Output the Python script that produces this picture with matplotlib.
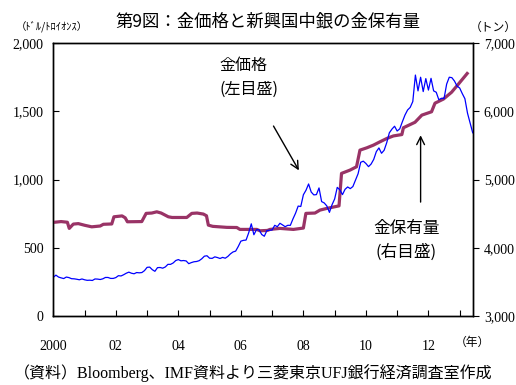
import matplotlib
matplotlib.use("Agg")
import matplotlib.pyplot as plt
import numpy as np

plt.rcParams['font.family'] = ['Noto Sans CJK JP', 'DejaVu Sans']

# Gold price, monthly average (USD / troy ounce), Jan 2000 - Jun 2013
gold_price = [
    284, 300, 286, 280, 275, 286, 282, 274, 273, 270, 266, 272,   # 2000
    266, 262, 263, 261, 272, 271, 268, 273, 283, 283, 276, 276,   # 2001
    282, 296, 294, 303, 314, 322, 314, 310, 319, 317, 319, 333,   # 2002
    357, 359, 340, 328, 355, 356, 351, 360, 379, 379, 389, 407,   # 2003
    414, 405, 407, 404, 384, 392, 398, 400, 406, 420, 439, 442,   # 2004
    424, 423, 434, 429, 422, 430, 424, 437, 456, 470, 476, 510,   # 2005
    549, 555, 557, 610, 676, 596, 633, 632, 598, 585, 627, 629,   # 2006
    631, 665, 655, 680, 668, 655, 665, 665, 712, 754, 806, 803,   # 2007
    889, 922, 968, 909, 888, 890, 939, 839, 829, 807, 760, 816,   # 2008
    858, 943, 925, 890, 929, 946, 934, 949, 996, 1043, 1127, 1135,  # 2009
    1118, 1095, 1114, 1148, 1205, 1232, 1193, 1215, 1271, 1343, 1370, 1391,  # 2010
    1356, 1372, 1424, 1473, 1510, 1529, 1572, 1766, 1650, 1750, 1645, 1740,  # 2011
    1656, 1742, 1650, 1640, 1585, 1596, 1594, 1700, 1750, 1747, 1722, 1685,  # 2012
    1671, 1630, 1593, 1487, 1414, 1343,                                    # 2013
]

# Emerging-market central bank gold holdings (tonnes)
reserve_time = [
    0.00, 0.25, 0.45, 0.51, 0.64, 0.80, 1.01, 1.23, 1.50, 1.60, 1.87, 1.94,
    2.20, 2.30, 2.37, 2.83, 2.97, 3.15, 3.31, 3.45, 3.68, 3.80, 4.27, 4.43,
    4.60, 4.80, 4.90, 4.96, 5.10, 5.55, 5.87, 5.97, 6.51, 6.61, 6.85, 6.93,
    7.25, 7.68, 8.00, 8.08, 8.37, 8.53, 8.75, 9.14, 9.22, 9.49, 9.70, 9.81,
    10.03, 10.24, 10.45, 10.67, 10.88, 11.15, 11.20, 11.57, 11.79, 12.10,
    12.21, 12.48, 12.74, 12.96, 13.24,
]
reserve_tonnes = [
    4373, 4385, 4375, 4285, 4348, 4355, 4330, 4308, 4320, 4345, 4350, 4455,
    4468, 4440, 4382, 4385, 4505, 4510, 4528, 4510, 4455, 4445, 4445, 4505,
    4510, 4495, 4470, 4333, 4315, 4300, 4298, 4270, 4270, 4250, 4255, 4270,
    4285, 4270, 4290, 4505, 4510, 4553, 4578, 4615, 5091, 5139, 5188, 5432,
    5466, 5505, 5554, 5603, 5640, 5660, 5760, 5840, 5945, 5994,
    6120, 6180, 6280, 6400, 6555,
]

year_ticks = [0, 2, 4, 6, 8, 10, 12]
year_labels = ["2000", "02", "04", "06", "08", "10", "12"]

serif = ['Liberation Serif', 'Noto Sans CJK JP']

months = np.arange(len(gold_price)) / 12.0

fig = plt.figure(figsize=(5.16, 3.85), dpi=100)
ax = fig.add_axes([0.1033, 0.179, 0.8128, 0.709])
ax2 = ax.twinx()

ax.plot(months, gold_price, color="#0000ff", lw=0.9, zorder=2)
ax2.plot(reserve_time, reserve_tonnes, color="#993366", lw=2.3,
         solid_joinstyle="round", zorder=3)
ax.set_zorder(ax2.get_zorder() + 1)
ax.patch.set_visible(False)

ax.set_xlim(0, months[-1])
ax.set_ylim(0, 2000)
ax2.set_ylim(3000, 7000)

ax.set_yticks([0, 500, 1000, 1500, 2000])
ax.set_yticklabels(["0", "500", "1,000", "1,500", "2,000"], family=serif, fontsize=10)
ax2.set_yticks([3000, 4000, 5000, 6000, 7000])
ax2.set_yticklabels(["3,000", "4,000", "5,000", "6,000", "7,000"], family=serif, fontsize=10)

ax.set_xticks(range(0, 14))
ax.set_xticklabels([year_labels[year_ticks.index(i)] if i in year_ticks else "" for i in range(14)],
                   family=serif, fontsize=10)

ax.tick_params(axis="x", direction="in", length=4, pad=17, width=0.8)
ax.tick_params(axis="y", direction="in", length=4, pad=7, width=0.8)
ax2.tick_params(axis="y", direction="out", length=4, pad=4, width=0.8)
for a in (ax, ax2):
    for s in a.spines.values():
        s.set_linewidth(1.0)

# titles and units
fig.text(0.52, 0.945, "第9図：金価格と新興国中銀の金保有量", ha="center", va="center", fontsize=12.5)
fig.text(0.1, 0.93, "（ﾄﾞﾙ/ﾄﾛｲｵﾝｽ）", ha="center", va="center", fontsize=7.5)
fig.text(0.955, 0.93, "（トン）", ha="center", va="center", fontsize=8.5)
fig.text(0.915, 0.11, "（年）", ha="center", va="center", fontsize=8.5)
fig.text(0.49, 0.03, "（資料）Bloomberg、IMF資料より三菱東京UFJ銀行経済調査室作成",
         ha="center", va="center", fontsize=11.5, family=serif)

# series labels with arrows
ax.text(5.33, 1750, "金価格\n(左目盛)", ha="left", va="center", fontsize=11.5, linespacing=1.5)
ax.annotate("", xy=(7.9, 1050), xytext=(7.0, 1410),
            arrowprops=dict(arrowstyle="->", color="black", lw=1.0, mutation_scale=14))
ax2.text(11.3, 4110, "金保有量\n(右目盛)", ha="center", va="center", fontsize=12, linespacing=1.5)
ax2.annotate("", xy=(11.75, 5690), xytext=(11.75, 4630),
             arrowprops=dict(arrowstyle="->", color="black", lw=1.0, mutation_scale=14))

fig.savefig("out.png", dpi=100)
